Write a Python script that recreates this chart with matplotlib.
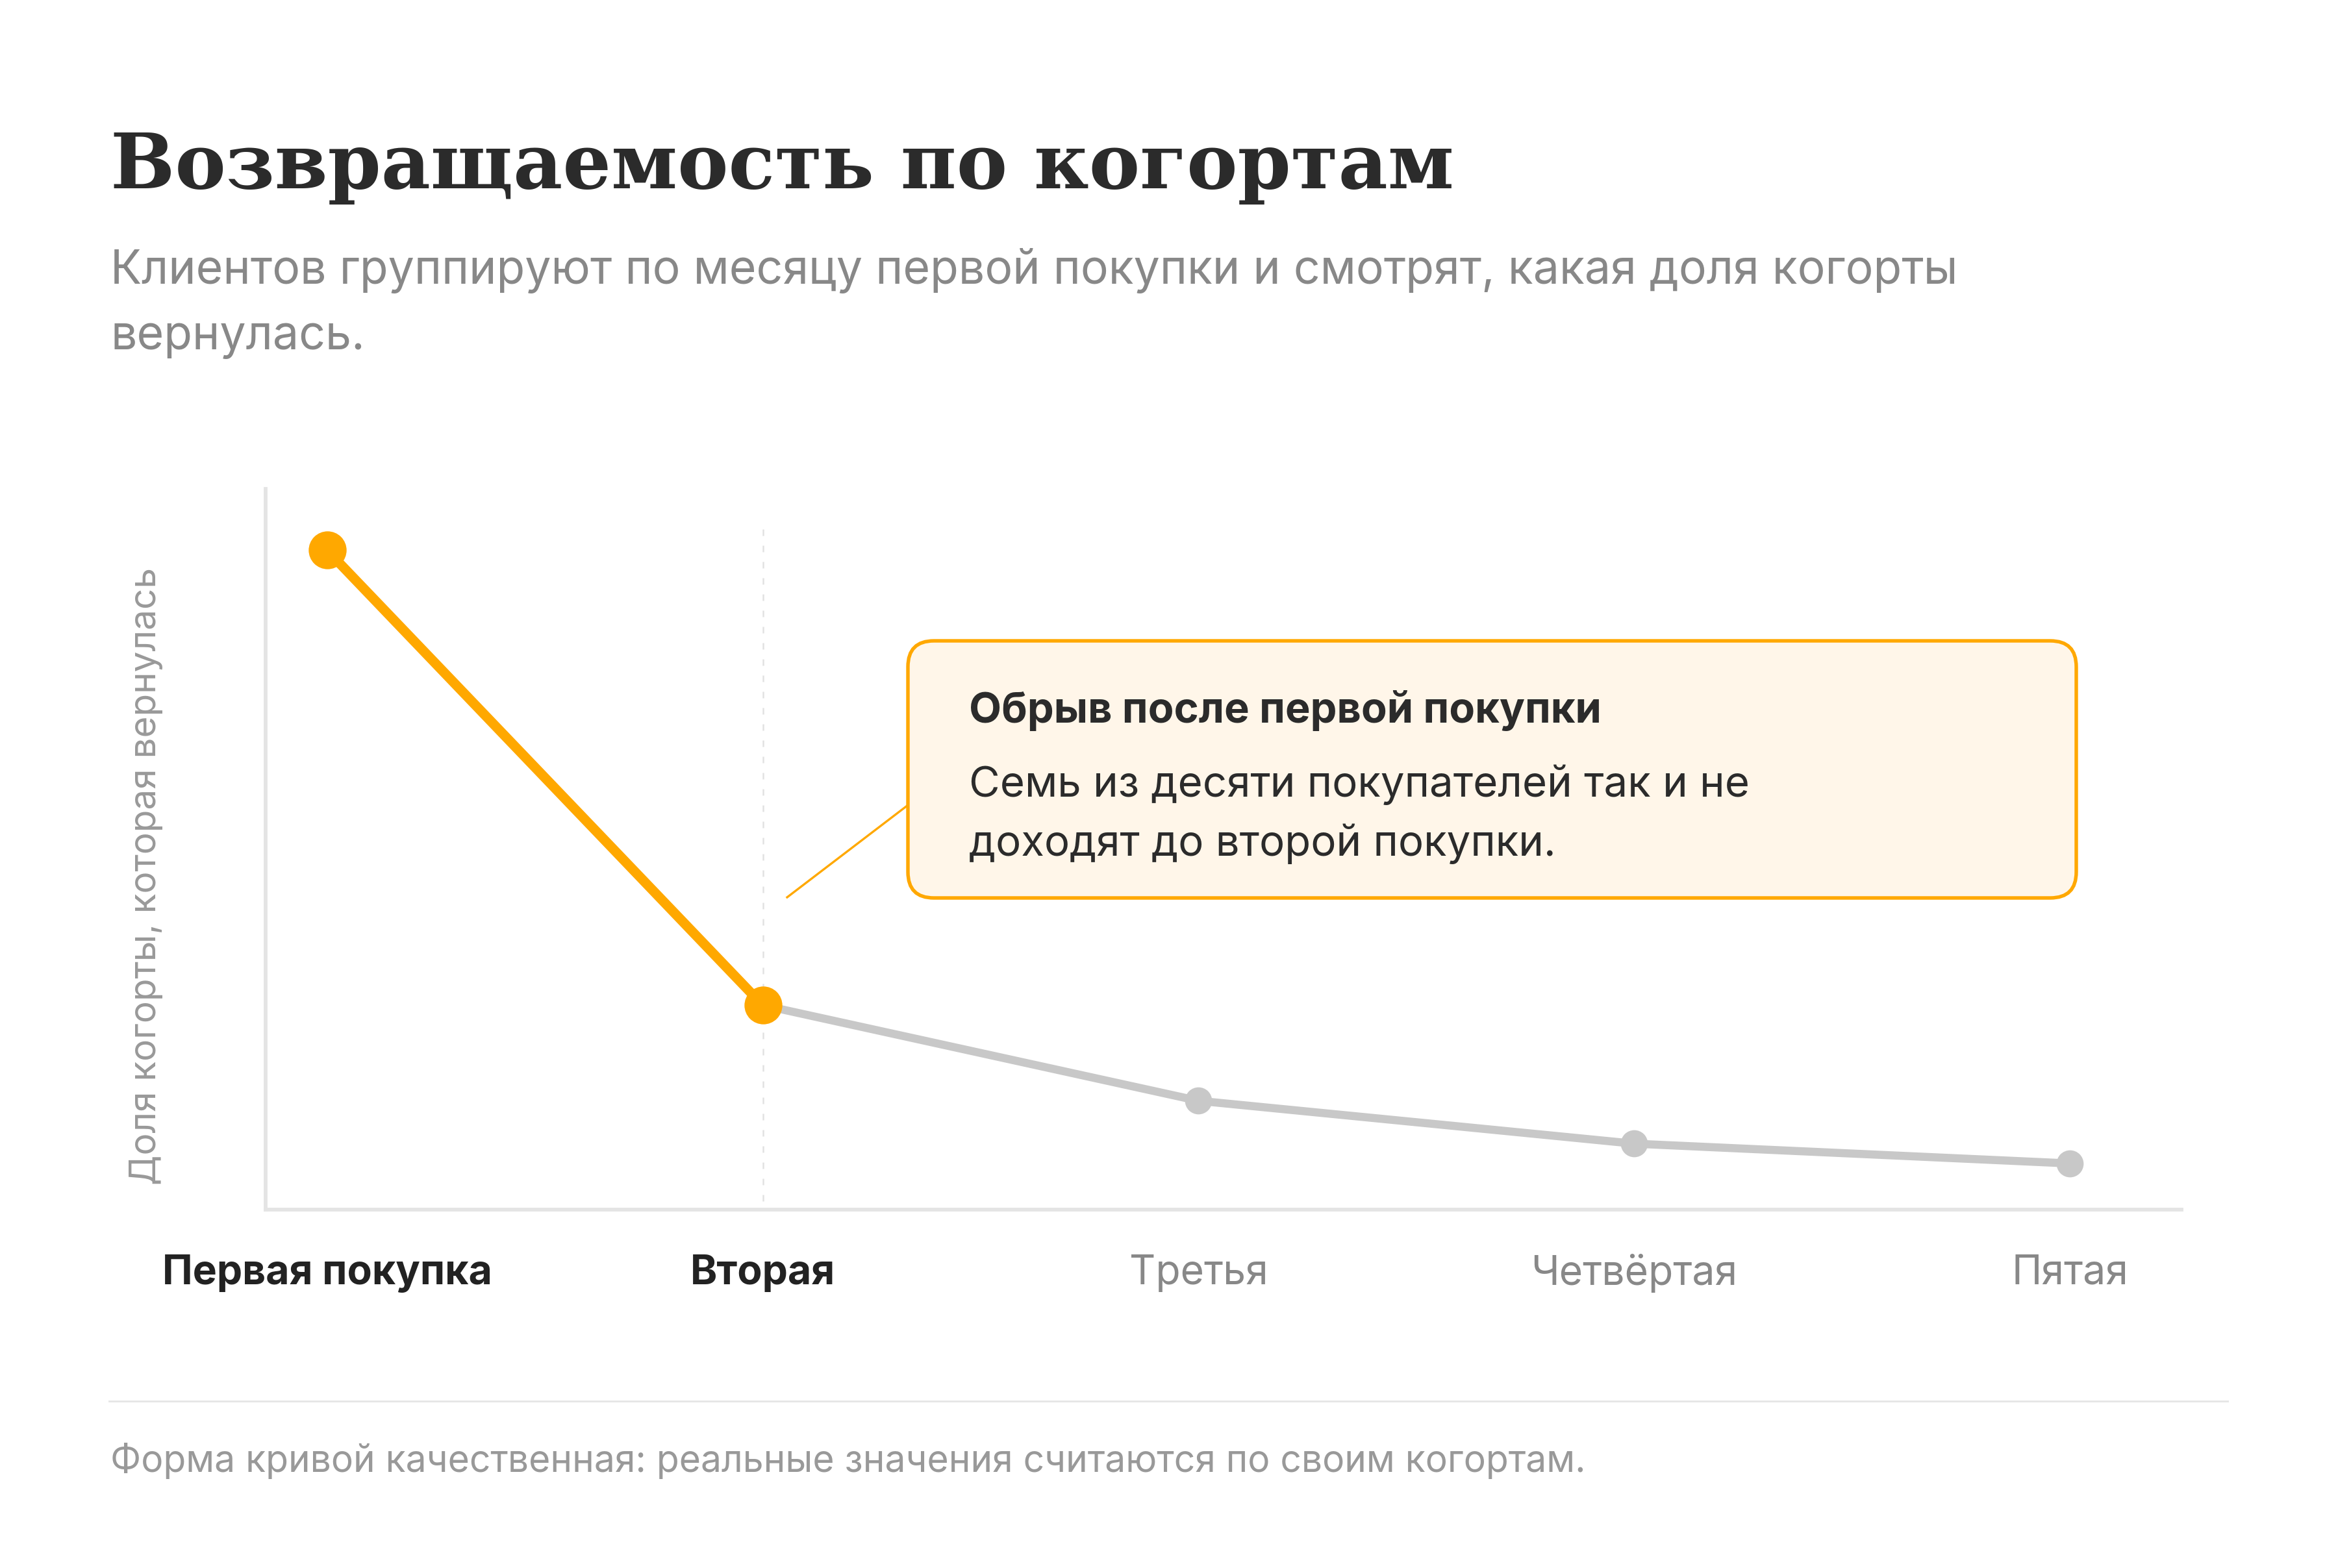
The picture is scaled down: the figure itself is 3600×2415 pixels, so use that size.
import matplotlib
matplotlib.use("Agg")
import matplotlib.pyplot as plt
from matplotlib.patches import FancyBboxPatch
from matplotlib.lines import Line2D
from matplotlib.transforms import IdentityTransform

# data (qualitative retention curve)
stages = ["Первая покупка", "Вторая", "Третья", "Четвёртая", "Пятая"]
retention = [100, 31, 16.5, 10, 7]
highlight = [True, True, False, False, False]

title = "Возвращаемость по когортам"
subtitle_1 = "Клиентов группируют по месяцу первой покупки и смотрят, какая доля когорты"
subtitle_2 = "вернулась."
ylabel = "Доля когорты, которая вернулась"
note_title = "Обрыв после первой покупки"
note_body_1 = "Семь из десяти покупателей так и не"
note_body_2 = "доходят до второй покупки."
footer = "Форма кривой качественная: реальные значения считаются по своим когортам."

ORANGE = "#ffa800"
GREY_LINE = "#c8c8c8"
DARK = "#2b2b2b"
MUTED = "#888888"
SPINE = "#e4e4e4"

plt.rcParams["font.family"] = ["Inter", "DejaVu Sans"]

W, H = 3600, 2415
fig = plt.figure(figsize=(W / 300, H / 300), dpi=300)
fig.patch.set_facecolor("white")


def fx(px):
    return px / W


def fy(py):
    return 1 - py / H


ax = fig.add_axes([fx(409), fy(1863), fx(3359) - fx(409), (1863 - 753) / H])
xs = list(range(len(stages)))

# grey tail from the second purchase on
ax.plot(xs[1:], retention[1:], color=GREY_LINE, lw=3.0, solid_capstyle="round", zorder=2)
ax.plot(xs[2:], retention[2:], "o", color=GREY_LINE, ms=10, mew=0, zorder=3)
# orange drop
ax.plot(xs[:2], retention[:2], color=ORANGE, lw=3.6, solid_capstyle="round", zorder=4)
ax.plot(xs[:2], retention[:2], "o", color=ORANGE, ms=14, mew=0, zorder=5)

ax.axvline(1, ymin=0.012, ymax=0.95, color="#e2e2e2", lw=0.6, ls=(0, (4, 6)), zorder=1)

ax.set_xlim(-0.141, 4.256)
ax.set_ylim(0, 109.3)
ax.set_yticks([])
ax.set_xticks(xs)
ax.set_xticklabels(stages)
ax.tick_params(axis="x", length=0, pad=16.5, labelsize=15)
for lab, hl in zip(ax.get_xticklabels(), highlight):
    lab.set_color("#222222" if hl else MUTED)
    lab.set_fontweight("bold" if hl else "normal")

for s in ["top", "right"]:
    ax.spines[s].set_visible(False)
for s in ["left", "bottom"]:
    ax.spines[s].set_color(SPINE)
    ax.spines[s].set_linewidth(1.4)

# header
fig.text(fx(170), fy(290), title, family=["DejaVu Serif"], fontweight="bold",
         fontsize=28.2, color=DARK, va="baseline", ha="left")
fig.text(fx(170), fy(437), subtitle_1, fontsize=17.2, color=MUTED, va="baseline")
fig.text(fx(170), fy(538), subtitle_2, fontsize=17.2, color=MUTED, va="baseline")

fig.text(fx(225), fy(1825), ylabel, rotation=90, fontsize=13.6, color="#999999",
         ha="center", va="bottom")

# callout
box = FancyBboxPatch((1398, H - 1383), 3197 - 1398, 1383 - 987,
                     boxstyle="round,pad=0,rounding_size=40",
                     transform=IdentityTransform(), facecolor="#fff6e9",
                     edgecolor=ORANGE, lw=1.3, zorder=5)
fig.add_artist(box)
fig.add_artist(Line2D([1212, 1398], [H - 1382, H - 1240], transform=IdentityTransform(),
                      color=ORANGE, lw=0.8, zorder=4))
fig.text(fx(1492), fy(1113), note_title, fontsize=15.6, fontweight="bold", color=DARK,
         va="baseline", zorder=6)
fig.text(fx(1492), fy(1227), note_body_1, fontsize=15.7, color=DARK, va="baseline", zorder=6)
fig.text(fx(1492), fy(1318), note_body_2, fontsize=15.7, color=DARK, va="baseline", zorder=6)

# footer
fig.add_artist(Line2D([fx(168), fx(3430)], [fy(2158), fy(2158)], color="#e6e6e6", lw=0.7))
fig.text(fx(170), fy(2267), footer, fontsize=13.7, color="#999999", va="baseline")

fig.savefig("out.png", dpi=300, facecolor="white")
